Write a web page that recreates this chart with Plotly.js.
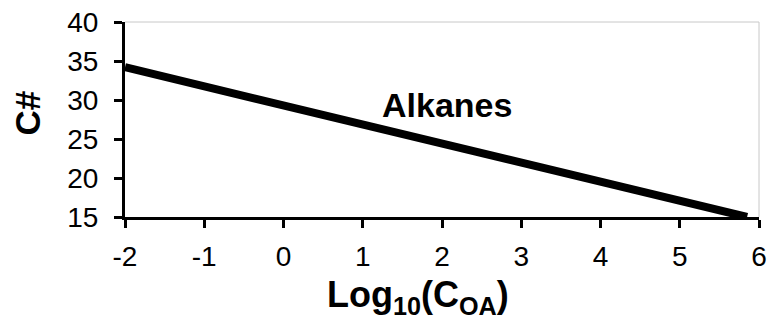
<!DOCTYPE html>
<html>
<head>
<meta charset="utf-8">
<script src="https://cdn.plot.ly/plotly-3.0.1.min.js"></script>
<style>html,body{margin:0;padding:0;background:#fff;}#chart{width:771px;height:321px;}</style>
</head>
<body>
<div id="chart"></div>
<script>
var logCoa = [-2, 5.85];
var carbonNumber = [34.2, 15];
var seriesLabel = "Alkanes";
var xTicks = [-2, -1, 0, 1, 2, 3, 4, 5, 6];
var yTicks = [15, 20, 25, 30, 35, 40];
var xTitle = "Log<sub>10</sub>(C<sub>OA</sub>)";
var yTitle = "C#";

var font = "Liberation Sans, Arial, sans-serif";
var trace = {
  x: logCoa, y: carbonNumber, mode: "lines", type: "scatter",
  line: {color: "#000", width: 8}, hoverinfo: "none", showlegend: false
};
var layout = {
  width: 771, height: 321,
  margin: {l: 125, r: 12, t: 22, b: 104},
  paper_bgcolor: "#fff", plot_bgcolor: "#fff",
  font: {family: font, color: "#000"},
  xaxis: {
    range: [-2, 6], tickvals: xTicks, ticktext: xTicks.map(String),
    showgrid: false, zeroline: false, showline: true, linecolor: "#000", linewidth: 3,
    ticks: "outside", ticklen: 8, tickwidth: 3, tickcolor: "#000",
    tickfont: {size: 28, family: font}, ticklabelstandoff: 4
  },
  yaxis: {
    range: [15, 40], tickvals: yTicks, ticktext: yTicks.map(String),
    showgrid: false, zeroline: false, showline: true, linecolor: "#000", linewidth: 3,
    ticks: "outside", ticklen: 8, tickwidth: 3, tickcolor: "#000",
    tickfont: {size: 28, family: font}, ticklabelstandoff: 10
  },
  shapes: [
    {type: "line", xref: "paper", yref: "paper", x0: 0, x1: 1, y0: 1, y1: 1, line: {color: "#c8c8c8", width: 1}},
    {type: "line", xref: "paper", yref: "paper", x0: 1, x1: 1, y0: 0, y1: 1, line: {color: "#c8c8c8", width: 1}}
  ],
  annotations: [
    {x: 2.06, y: 29.3, xref: "x", yref: "y", text: "<b>" + seriesLabel + "</b>",
     showarrow: false, font: {size: 34, family: font, color: "#000"}},
    {x: 0.462, y: -0.41, xref: "paper", yref: "paper", xanchor: "center", yanchor: "middle",
     text: "<b>" + xTitle + "</b>", showarrow: false, font: {size: 36, family: font, color: "#000"}},
    {x: -0.1546, y: 0.536, xref: "paper", yref: "paper", xanchor: "center", yanchor: "middle",
     textangle: -90, text: "<b>" + yTitle + "</b>", showarrow: false, font: {size: 35, family: font, color: "#000"}}
  ]
};
Plotly.newPlot("chart", [trace], layout, {displayModeBar: false, staticPlot: true});
</script>
</body>
</html>
